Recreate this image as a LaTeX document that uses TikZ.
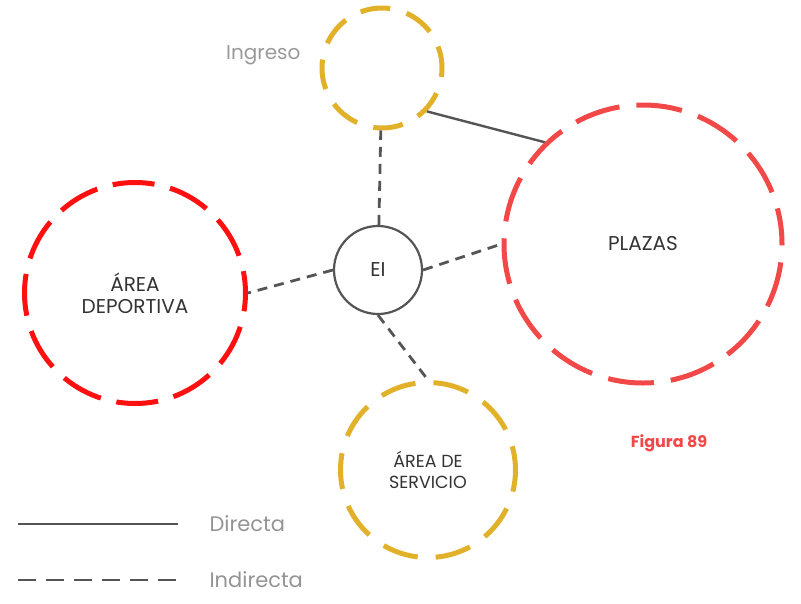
\documentclass[tikz,border=0pt]{standalone}
\usepackage{fontspec}
\setmainfont{Poppins}
\usepackage{xcolor}
\usetikzlibrary{positioning}
\definecolor{oro}{HTML}{E2B12A}
\definecolor{rojo}{HTML}{FF1010}
\definecolor{rojoclaro}{HTML}{F24848}
\definecolor{linea}{HTML}{555555}
\definecolor{texto}{HTML}{333333}

\begin{document}
\begin{tikzpicture}[x=1pt,y=-1pt,
  zona/.style={circle,inner sep=0pt,line width=5pt,align=center,text=texto,font=\fontsize{20}{23}\selectfont},
  directa/.style={line width=2.4pt,linea},
  indirecta/.style={line width=2.8pt,linea,dash pattern=on 10pt off 7pt},
  leyenda/.style={text=black!42,font=\fontsize{21}{24}\selectfont,anchor=west}]
  \useasboundingbox (0,0) rectangle (801,603);
  % zonas
  \node[zona,draw=oro,minimum size=120pt,dash pattern=on 30pt off 17pt,dash phase=8pt] (ingreso) at (382,68) {};
  \node[zona,draw=rojo,minimum size=221pt,dash pattern=on 42pt off 16pt,dash phase=20pt] (dep) at (135,293) {ÁREA\\[-1pt]DEPORTIVA};
  \node[zona,draw=rojoclaro,minimum size=278pt,dash pattern=on 46pt off 17pt,dash phase=10pt] (plazas) at (643,244) {PLAZAS};
  \node[zona,draw=oro,minimum size=175pt,dash pattern=on 36pt off 18pt,dash phase=12pt,font=\fontsize{17.5}{21}\selectfont] (serv) at (428,470) {ÁREA DE\\SERVICIO};
  \node[zona,draw=linea,line width=2.2pt,minimum size=88pt,font=\fontsize{20}{24}\selectfont] (ei) at (378,270) {EI};
  \node[text=black!40,font=\fontsize{20}{24}\selectfont,anchor=east] (lbling) at (304,55) {Ingreso};
  % relaciones
  \draw[directa] (ingreso.-44) -- (plazas.134);
  \draw[indirecta] (ei) -- (ingreso);
  \draw[indirecta] (ei.west) -- (dep.east);
  \draw[indirecta] (ei.east) -- (plazas.west);
  \draw[indirecta] (ei.south) -- (serv.north);
  \node[font=\bfseries\fontsize{16}{19}\selectfont,text=rojoclaro] (fig) at (669,443) {Figura 89};
  % leyenda
  \coordinate (d1) at (18,524);
  \coordinate (d2) at (178,524);
  \coordinate (i1) at (18,580);
  \coordinate (i2) at (178,580);
  \draw[directa] (d1) -- (d2);
  \draw[indirecta,dash pattern=on 18pt off 10pt] (i1) -- (i2);
  \node[leyenda] (lbldir) at (206,524) {Directa};
  \node[leyenda] (lblind) at (206,580) {Indirecta};
\end{tikzpicture}
\end{document}
